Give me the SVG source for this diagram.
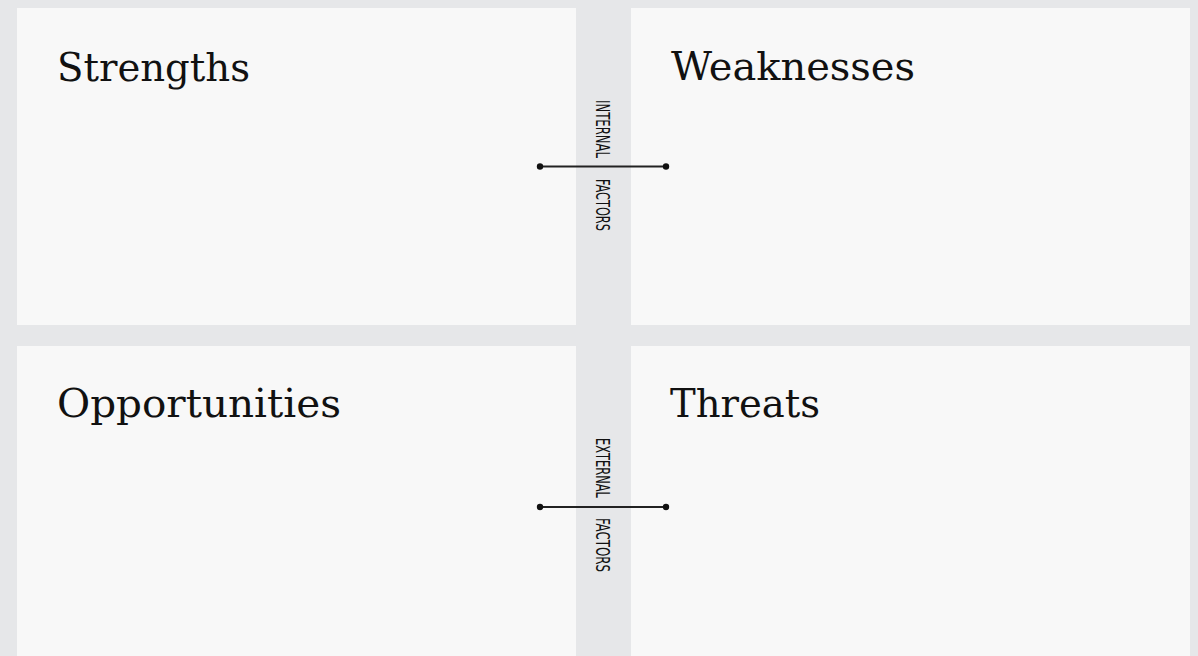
<svg xmlns="http://www.w3.org/2000/svg" width="1198" height="656" viewBox="0 0 1198 656">
<style>
.panel{fill:#f8f8f8}
.title{font-family:"DejaVu Serif","Liberation Serif",serif;font-size:40px;fill:#111}
.vlabel{font-family:"DejaVu Sans Condensed","DejaVu Sans","Liberation Sans",sans-serif;font-size:19.5px;fill:#111;font-stretch:condensed}
.axis{stroke:#222;stroke-width:2}
.dot{fill:#111}
</style>
<rect x="0" y="0" width="1198" height="656" fill="#e6e7e9"/>
<g id="strengths">
<rect class="panel" x="17" y="8" width="559" height="317"/>
<text class="title" x="57" y="81" textLength="193" lengthAdjust="spacingAndGlyphs">Strengths</text>
</g>
<g id="weaknesses">
<rect class="panel" x="631" y="8" width="559" height="317"/>
<text class="title" x="671" y="80" textLength="244" lengthAdjust="spacingAndGlyphs">Weaknesses</text>
</g>
<g id="opportunities">
<rect class="panel" x="17" y="346" width="559" height="310"/>
<text class="title" x="57" y="417" textLength="284" lengthAdjust="spacingAndGlyphs">Opportunities</text>
</g>
<g id="threats">
<rect class="panel" x="631" y="346" width="559" height="310"/>
<text class="title" x="670" y="417" textLength="150" lengthAdjust="spacingAndGlyphs">Threats</text>
</g>
<g id="internal-factors">
<text class="vlabel" transform="translate(596,100) rotate(90)" textLength="58" lengthAdjust="spacingAndGlyphs">INTERNAL</text>
<text class="vlabel" transform="translate(596,179) rotate(90)" textLength="52" lengthAdjust="spacingAndGlyphs">FACTORS</text>
</g>
<g id="external-factors">
<text class="vlabel" transform="translate(596,438) rotate(90)" textLength="60" lengthAdjust="spacingAndGlyphs">EXTERNAL</text>
<text class="vlabel" transform="translate(596,518) rotate(90)" textLength="54" lengthAdjust="spacingAndGlyphs">FACTORS</text>
</g>
<g id="connectors">
<line class="axis" x1="540" y1="166.5" x2="666" y2="166.5"/>
<circle class="dot" cx="540" cy="166.5" r="3.2"/>
<circle class="dot" cx="666" cy="166.5" r="3.2"/>
<line class="axis" x1="540" y1="507" x2="666" y2="507"/>
<circle class="dot" cx="540" cy="507" r="3.2"/>
<circle class="dot" cx="666" cy="507" r="3.2"/>
</g>
</svg>
